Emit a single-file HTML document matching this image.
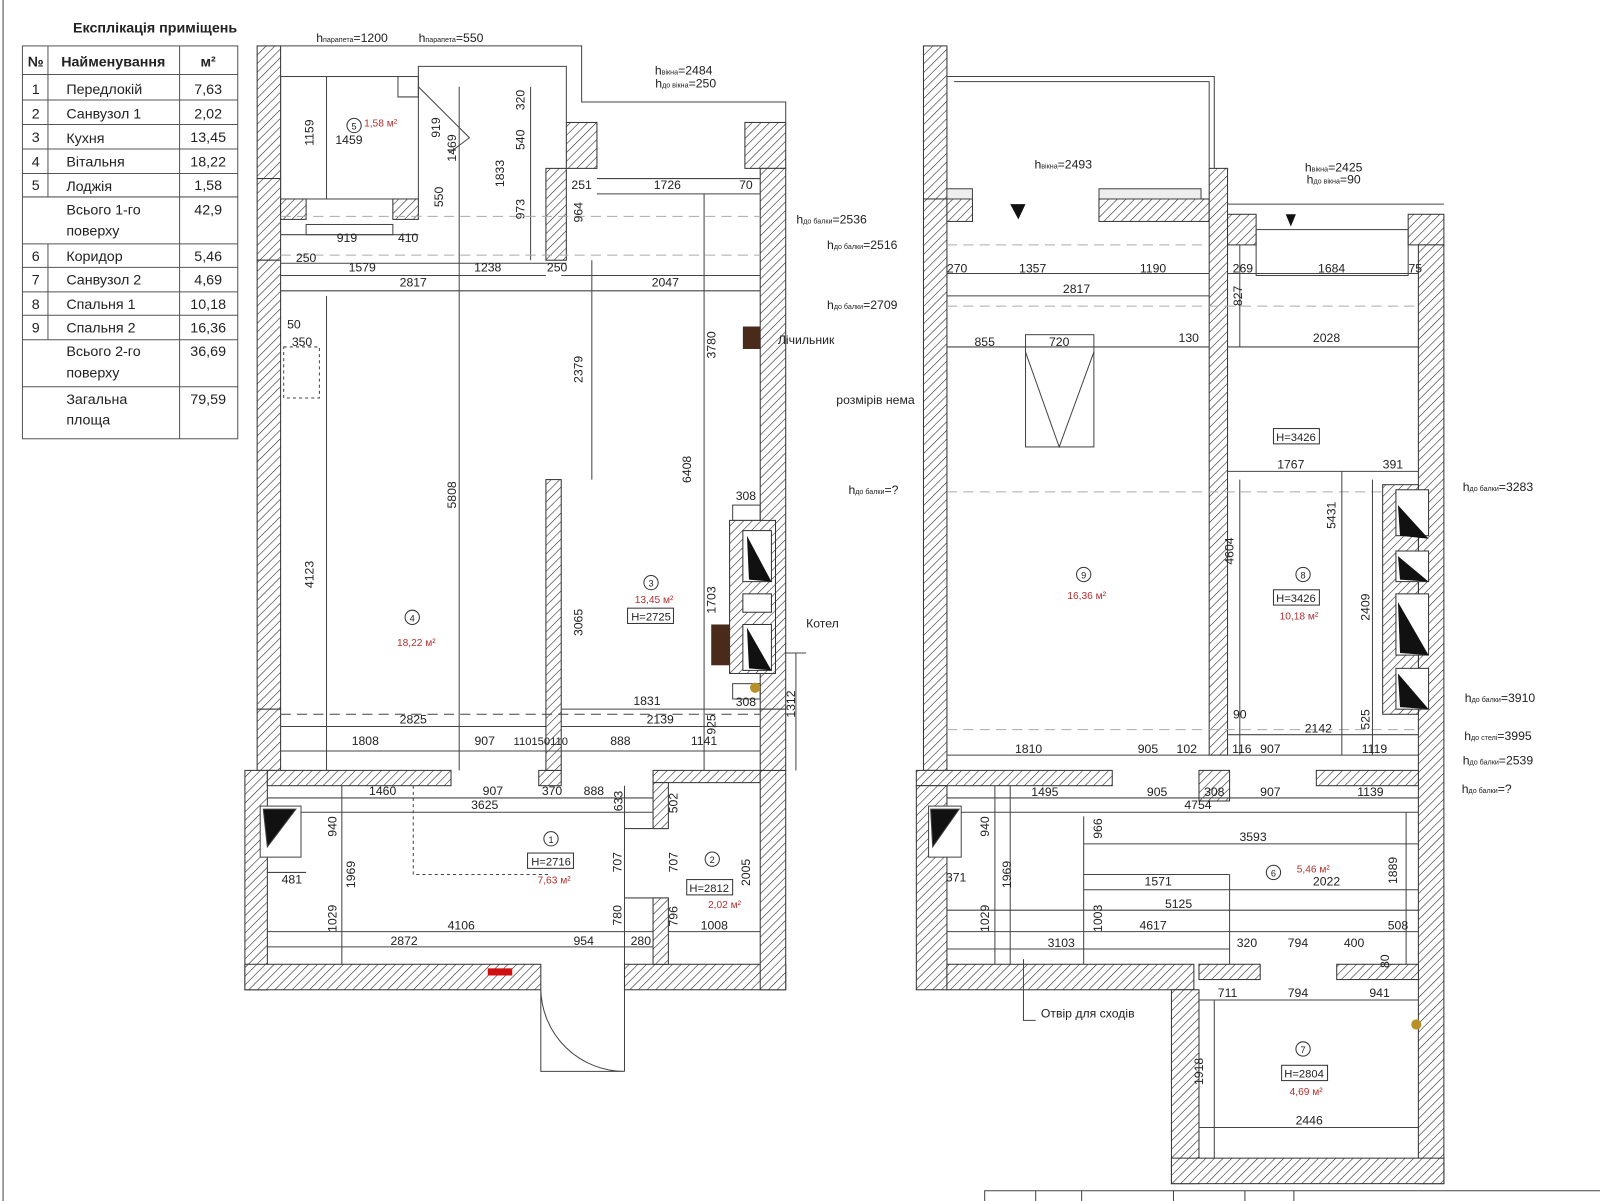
<!DOCTYPE html>
<html><head><meta charset="utf-8"><style>
html,body{margin:0;padding:0;background:#fff;}
svg{display:block}
text{font-family:"Liberation Sans",sans-serif;font-size:12px;fill:#222;text-anchor:middle}
.b{font-weight:bold}
.r{fill:#b03030;font-size:10px}
.s{font-size:11px;text-anchor:start}
.t text{font-size:14px}
.t .b{font-size:14px}
</style></head><body>
<svg width="1600" height="1201" viewBox="0 0 1568 1177" preserveAspectRatio="none" xmlns="http://www.w3.org/2000/svg">
<defs>
<pattern id="h" width="6" height="6" patternUnits="userSpaceOnUse" patternTransform="rotate(45)">
<rect width="6" height="6" fill="#fff"/><line x1="0" y1="0" x2="0" y2="6" stroke="#222" stroke-width="1.1"/>
</pattern>
</defs>
<g stroke="#333" stroke-width="1" fill="url(#h)">
<rect x="252" y="45" width="23" height="130"/>
<rect x="252" y="175" width="23" height="80"/>
<rect x="252" y="255" width="23" height="440"/>
<rect x="252" y="695" width="23" height="60"/>
<rect x="240" y="755" width="22" height="215"/>
<rect x="240" y="945" width="290" height="25"/>
<rect x="612" y="945" width="158" height="25"/>
<rect x="262" y="755" width="180" height="15"/>
<rect x="528" y="755" width="22" height="15"/>
<rect x="640" y="755" width="105" height="12"/>
<rect x="745" y="755" width="25" height="215"/>
<rect x="640" y="767" width="15" height="45"/>
<rect x="640" y="880" width="15" height="65"/>
<rect x="535" y="470" width="15" height="285"/>
<rect x="555" y="120" width="30" height="45"/>
<rect x="535" y="165" width="20" height="90"/>
<rect x="730" y="120" width="40" height="45"/>
<rect x="745" y="165" width="25" height="530"/>
<rect x="745" y="695" width="25" height="60"/>
<rect x="275" y="195" width="25" height="20"/>
<rect x="385" y="195" width="25" height="20"/>
<rect x="715" y="510" width="45" height="150" />
<rect x="905" y="45" width="23" height="150"/>
<rect x="905" y="195" width="23" height="560"/>
<rect x="928" y="195" width="25" height="22"/>
<rect x="1077" y="195" width="108" height="22"/>
<rect x="1185" y="165" width="18" height="575"/>
<rect x="1203" y="210" width="28" height="30"/>
<rect x="1380" y="210" width="35" height="30"/>
<rect x="1390" y="240" width="25" height="920"/>
<rect x="1355" y="475" width="35" height="225"/>
<rect x="898" y="755" width="192" height="15"/>
<rect x="1175" y="755" width="30" height="30"/>
<rect x="1290" y="755" width="100" height="15"/>
<rect x="898" y="770" width="30" height="200"/>
<rect x="928" y="945" width="242" height="25"/>
<rect x="1148" y="970" width="27" height="190"/>
<rect x="1148" y="1135" width="267" height="25"/>
<rect x="1310" y="945" width="80" height="15"/>
<rect x="1175" y="945" width="60" height="15"/>
</g>
<g stroke="#444" stroke-width="1" fill="none">
<line x1="3" y1="0" x2="3" y2="1177"/>
<polyline points="275,75 390,75 390,95 410,95 410,65 555,65 555,120"/>
<polyline points="275,45 570,45 570,100 770,100 770,120"/>
<rect x="275" y="75" width="135" height="120"/>
<polyline points="410,85 460,135 440,150"/>
<rect x="300" y="220" width="85" height="10"/>
<line x1="275" y1="230" x2="410" y2="230"/><line x1="275" y1="258" x2="555" y2="258"/>
<line x1="275" y1="270" x2="535" y2="270"/><line x1="550" y1="270" x2="745" y2="270"/>
<line x1="275" y1="285" x2="745" y2="285"/>
<line x1="585" y1="175" x2="745" y2="175"/><line x1="585" y1="190" x2="745" y2="190"/>
<line x1="450" y1="85" x2="450" y2="755"/><line x1="320" y1="75" x2="320" y2="195"/>
<line x1="520" y1="85" x2="520" y2="255"/><line x1="580" y1="255" x2="580" y2="470"/>
<line x1="690" y1="190" x2="690" y2="755"/><line x1="320" y1="290" x2="320" y2="755"/>
<line x1="275" y1="700" x2="745" y2="700" stroke-dasharray="10 6"/>
<line x1="275" y1="712" x2="535" y2="712"/><line x1="550" y1="695" x2="745" y2="695"/>
<line x1="550" y1="712" x2="745" y2="712"/>
<line x1="275" y1="736" x2="745" y2="736"/>
<line x1="262" y1="782" x2="640" y2="782"/><line x1="262" y1="796" x2="640" y2="796"/>
<line x1="262" y1="913" x2="640" y2="913"/><line x1="262" y1="928" x2="640" y2="928"/>
<line x1="655" y1="913" x2="745" y2="913"/>
<line x1="612" y1="812" x2="655" y2="812"/><line x1="612" y1="880" x2="655" y2="880"/>
<line x1="612" y1="770" x2="612" y2="945"/>
<line x1="335" y1="770" x2="335" y2="945"/>
<line x1="262" y1="855" x2="300" y2="855"/>
<rect x="255" y="790" width="40" height="50" fill="#fff"/>
<polygon points="258,793 290,793 262,830" fill="#111"/>
<line x1="275" y1="212" x2="745" y2="212" stroke-dasharray="10 6" stroke="#aaa"/>
<line x1="275" y1="250" x2="745" y2="250" stroke-dasharray="10 6" stroke="#aaa"/>
<path d="M405,770 L405,857 L540,857" stroke-dasharray="3 3"/>
<rect x="278" y="340" width="35" height="50" stroke-dasharray="3 3"/>
<path d="M530,970 L530,1050 L612,1050 M530,970 A82,82 0 0 0 612,1050"/>
<line x1="612" y1="970" x2="612" y2="1050"/>
<rect x="718" y="495" width="27" height="15"/><rect x="718" y="670" width="27" height="15"/>
<line x1="770" y1="640" x2="790" y2="640"/><line x1="780" y1="640" x2="780" y2="755"/>
<polyline points="928,75 1190,75 1190,165"/>
<polyline points="935,80 1185,80 1185,165"/>
<rect x="928" y="185" width="25" height="10" fill="#eee"/>
<rect x="1077" y="185" width="100" height="10" fill="#eee"/>
<polyline points="1203,200 1415,200"/>
<rect x="1231" y="225" width="149" height="45"/>
<line x1="928" y1="268" x2="1185" y2="268"/><line x1="928" y1="290" x2="1185" y2="290"/>
<line x1="1203" y1="268" x2="1390" y2="268"/>
<line x1="928" y1="340" x2="1185" y2="340"/><line x1="1203" y1="340" x2="1390" y2="340"/>
<line x1="1203" y1="462" x2="1390" y2="462"/>
<line x1="928" y1="240" x2="1185" y2="240" stroke-dasharray="10 6" stroke="#aaa"/>
<line x1="928" y1="300" x2="1390" y2="300" stroke-dasharray="10 6" stroke="#aaa"/>
<line x1="928" y1="482" x2="1355" y2="482" stroke-dasharray="10 6" stroke="#aaa"/>
<line x1="928" y1="715" x2="1390" y2="715" stroke-dasharray="10 6" stroke="#aaa"/>
<rect x="1005" y="328" width="67" height="110"/>
<polyline points="1005,345 1038,438 1072,345"/>
<line x1="928" y1="740" x2="1390" y2="740"/><line x1="1203" y1="720" x2="1390" y2="720"/>
<line x1="928" y1="782" x2="1390" y2="782"/><line x1="928" y1="796" x2="1390" y2="796"/>
<line x1="1062" y1="827" x2="1390" y2="827"/><line x1="1062" y1="857" x2="1205" y2="857"/>
<line x1="1062" y1="872" x2="1390" y2="872"/>
<line x1="928" y1="892" x2="1390" y2="892"/><line x1="928" y1="913" x2="1390" y2="913"/>
<line x1="928" y1="930" x2="1205" y2="930"/>
<line x1="1062" y1="800" x2="1062" y2="945"/><line x1="1205" y1="857" x2="1205" y2="945"/>
<line x1="975" y1="770" x2="975" y2="945"/><line x1="990" y1="770" x2="990" y2="945"/>
<line x1="1175" y1="980" x2="1390" y2="980"/><line x1="1175" y1="1105" x2="1390" y2="1105"/>
<line x1="1190" y1="980" x2="1190" y2="1135"/>
<line x1="1378" y1="796" x2="1378" y2="945"/>
<rect x="910" y="790" width="32" height="50" fill="#fff"/>
<polygon points="912,793 940,793 914,830" fill="#111"/>
<path d="M1003,940 L1003,1000 L1015,1000"/>
<line x1="1215" y1="240" x2="1215" y2="340"/><line x1="1215" y1="470" x2="1215" y2="740"/>
<line x1="1315" y1="462" x2="1315" y2="740"/><line x1="1345" y1="470" x2="1345" y2="740"/>
<polyline points="965,1177 965,1167 1568,1167"/>
<line x1="1015" y1="1167" x2="1015" y2="1177"/><line x1="1060" y1="1167" x2="1060" y2="1177"/>
<line x1="1150" y1="1167" x2="1150" y2="1177"/><line x1="1220" y1="1167" x2="1220" y2="1177"/>
<line x1="1268" y1="1167" x2="1268" y2="1177"/>
</g>
<g stroke="#333" fill="#fff">
<rect x="1368" y="480" width="32" height="45"/><rect x="1368" y="540" width="32" height="30"/>
<rect x="1368" y="582" width="32" height="60"/><rect x="1368" y="655" width="32" height="40"/>
<rect x="728" y="520" width="28" height="50"/><rect x="728" y="582" width="28" height="18"/><rect x="728" y="612" width="28" height="45"/>
</g>
<g fill="#111">
<polygon points="1370,495 1400,528 1372,525"/><polygon points="1370,545 1400,570 1372,568"/>
<polygon points="1370,590 1400,642 1372,640"/><polygon points="1370,660 1400,695 1372,693"/>
<polygon points="732,525 756,570 734,568"/><polygon points="732,615 756,657 734,655"/>
<polygon points="990,200 998,215 1005,200"/><polygon points="1260,210 1265,222 1270,210"/>
</g>
<rect x="728" y="320" width="17" height="22" fill="#4a2a1a"/>
<rect x="697" y="612" width="18" height="40" fill="#4a2a1a"/>
<rect x="478" y="949" width="24" height="7" fill="#d01010"/>
<circle cx="740" cy="674" r="5" fill="#b8902a"/>
<circle cx="1388" cy="1004" r="5" fill="#b8902a"/>
<g stroke="#555" fill="none">
<rect x="22" y="45" width="211" height="385"/>
<line x1="47" y1="45" x2="47" y2="193"/><line x1="47" y1="239" x2="47" y2="333"/>
<line x1="176" y1="45" x2="176" y2="430"/>
<line x1="22" y1="73" x2="233" y2="73"/><line x1="22" y1="98" x2="233" y2="98"/>
<line x1="22" y1="122" x2="233" y2="122"/><line x1="22" y1="146" x2="233" y2="146"/>
<line x1="22" y1="170" x2="233" y2="170"/><line x1="22" y1="193" x2="233" y2="193"/>
<line x1="22" y1="239" x2="233" y2="239"/><line x1="22" y1="262" x2="233" y2="262"/>
<line x1="22" y1="286" x2="233" y2="286"/><line x1="22" y1="309" x2="233" y2="309"/>
<line x1="22" y1="333" x2="233" y2="333"/><line x1="22" y1="379" x2="233" y2="379"/>
</g>
<g class="t">
<text x="152" y="32" class="b">Експлікація приміщень</text>
<text x="35" y="65" class="b">№</text><text x="111" y="65" class="b">Найменування</text><text x="204" y="65" class="b">м²</text>
<text x="35" y="92">1</text><text x="65" y="92" class="s">Передлокій</text><text x="204" y="92">7,63</text>
<text x="35" y="116">2</text><text x="65" y="116" class="s">Санвузол 1</text><text x="204" y="116">2,02</text>
<text x="35" y="139">3</text><text x="65" y="140" class="s">Кухня</text><text x="204" y="139">13,45</text>
<text x="35" y="163">4</text><text x="65" y="163" class="s">Вітальня</text><text x="204" y="163">18,22</text>
<text x="35" y="186">5</text><text x="65" y="187" class="s">Лоджія</text><text x="204" y="186">1,58</text>
<text x="65" y="210" class="s">Всього 1-го</text><text x="65" y="231" class="s">поверху</text><text x="204" y="210">42,9</text>
<text x="35" y="256">6</text><text x="65" y="256" class="s">Коридор</text><text x="204" y="256">5,46</text>
<text x="35" y="279">7</text><text x="65" y="279" class="s">Санвузол 2</text><text x="204" y="279">4,69</text>
<text x="35" y="303">8</text><text x="65" y="303" class="s">Спальня 1</text><text x="204" y="303">10,18</text>
<text x="35" y="326">9</text><text x="65" y="326" class="s">Спальня 2</text><text x="204" y="326">16,36</text>
<text x="65" y="349" class="s">Всього 2-го</text><text x="65" y="370" class="s">поверху</text><text x="204" y="349">36,69</text>
<text x="65" y="396" class="s">Загальна</text><text x="65" y="416" class="s">площа</text><text x="204" y="396">79,59</text>
</g>
<g>
<text x="345" y="41">h<tspan style="font-size:7px">парапета</tspan>=1200</text>
<text x="442" y="41">h<tspan style="font-size:7px">парапета</tspan>=550</text>
<text x="670" y="73">h<tspan style="font-size:7px">вікна</tspan>=2484</text>
<text x="672" y="86">h<tspan style="font-size:7px">до вікна</tspan>=250</text>
<text x="815" y="219">h<tspan style="font-size:7px">до балки</tspan>=2536</text>
<text x="845" y="244">h<tspan style="font-size:7px">до балки</tspan>=2516</text>
<text x="845" y="303">h<tspan style="font-size:7px">до балки</tspan>=2709</text>
<text x="342" y="141">1459</text><text x="373" y="124" class="r">1,58 м²</text>
<circle cx="347" cy="123" r="7" fill="none" stroke="#333"/><text x="347" y="127" style="font-size:9px">5</text>
<text x="340" y="237">919</text><text x="400" y="237">410</text><text x="300" y="257">250</text>
<text x="355" y="266">1579</text><text x="478" y="266">1238</text><text x="546" y="266">250</text>
<text x="405" y="281">2817</text><text x="652" y="281">2047</text>
<text x="570" y="185">251</text><text x="654" y="185">1726</text><text x="731" y="185">70</text>
<text x="288" y="322">50</text><text x="296" y="339">350</text>
<text x="790" y="337">Лічильник</text>
<text x="731" y="490">308</text><text x="806" y="615">Котел</text>
<text x="641" y="591" class="r">13,45 м²</text>
<circle cx="638" cy="571" r="7" fill="none" stroke="#333"/><text x="638" y="575" style="font-size:9px">3</text>
<rect x="615" y="596" width="45" height="15" fill="none" stroke="#333"/><text x="638" y="608" style="font-size:11px">H=2725</text>
<circle cx="404" cy="605" r="7" fill="none" stroke="#333"/><text x="404" y="609" style="font-size:9px">4</text>
<text x="408" y="633" class="r">18,22 м²</text>
<text x="634" y="691">1831</text><text x="731" y="692">308</text>
<text x="405" y="709">2825</text><text x="647" y="709">2139</text>
<text x="358" y="730">1808</text><text x="475" y="730">907</text><text x="530" y="730" style="font-size:11px">110150110</text>
<text x="608" y="730">888</text><text x="690" y="730">1141</text>
<text x="375" y="779">1460</text><text x="483" y="779">907</text><text x="475" y="793">3625</text>
<text x="541" y="779">370</text><text x="582" y="779">888</text>
<text x="286" y="866">481</text>
<circle cx="540" cy="822" r="7" fill="none" stroke="#333"/><text x="540" y="826" style="font-size:9px">1</text>
<rect x="517" y="836" width="45" height="15" fill="#fff" stroke="#333"/><text x="540" y="848" style="font-size:11px">H=2716</text>
<text x="543" y="866" class="r">7,63 м²</text>
<circle cx="698" cy="842" r="7" fill="none" stroke="#333"/><text x="698" y="846" style="font-size:9px">2</text>
<rect x="673" y="862" width="45" height="15" fill="#fff" stroke="#333"/><text x="695" y="874" style="font-size:11px">H=2812</text>
<text x="710" y="890" class="r">2,02 м²</text>
<text x="452" y="911">4106</text><text x="396" y="926">2872</text><text x="572" y="926">954</text>
<text x="628" y="926">280</text><text x="700" y="911">1008</text>
</g>
<g>
<text transform="translate(307,130) rotate(-90)">1159</text>
<text transform="translate(431,125) rotate(-90)">919</text>
<text transform="translate(447,145) rotate(-90)">1469</text>
<text transform="translate(494,170) rotate(-90)">1833</text>
<text transform="translate(514,98) rotate(-90)">320</text>
<text transform="translate(514,137) rotate(-90)">540</text>
<text transform="translate(514,205) rotate(-90)">973</text>
<text transform="translate(434,193) rotate(-90)">550</text>
<text transform="translate(571,208) rotate(-90)">964</text>
<text transform="translate(571,362) rotate(-90)">2379</text>
<text transform="translate(701,338) rotate(-90)">3780</text>
<text transform="translate(447,485) rotate(-90)">5808</text>
<text transform="translate(677,460) rotate(-90)">6408</text>
<text transform="translate(307,563) rotate(-90)">4123</text>
<text transform="translate(571,610) rotate(-90)">3065</text>
<text transform="translate(701,588) rotate(-90)">1703</text>
<text transform="translate(779,690) rotate(-90)">1312</text>
<text transform="translate(701,710) rotate(-90)">925</text>
<text transform="translate(610,785) rotate(-90)">633</text>
<text transform="translate(664,787) rotate(-90)">502</text>
<text transform="translate(330,810) rotate(-90)">940</text>
<text transform="translate(348,857) rotate(-90)">1969</text>
<text transform="translate(330,900) rotate(-90)">1029</text>
<text transform="translate(609,845) rotate(-90)">707</text>
<text transform="translate(664,845) rotate(-90)">707</text>
<text transform="translate(735,855) rotate(-90)">2005</text>
<text transform="translate(609,897) rotate(-90)">780</text>
<text transform="translate(664,898) rotate(-90)">796</text>
</g>
<g>
<text x="1042" y="165">h<tspan style="font-size:7px">вікна</tspan>=2493</text>
<text x="1307" y="168">h<tspan style="font-size:7px">вікна</tspan>=2425</text>
<text x="1307" y="180">h<tspan style="font-size:7px">до вікна</tspan>=90</text>
<text x="938" y="267">270</text><text x="1012" y="267">1357</text><text x="1130" y="267">1190</text>
<text x="1218" y="267">269</text><text x="1305" y="267">1684</text><text x="1387" y="267">75</text>
<text x="1055" y="287">2817</text>
<text x="965" y="339">855</text><text x="1038" y="339">720</text><text x="1165" y="335">130</text><text x="1300" y="335">2028</text>
<text x="858" y="396">розмірів нема</text>
<rect x="1248" y="420" width="45" height="15" fill="none" stroke="#333"/><text x="1270" y="432" style="font-size:11px">H=3426</text>
<text x="1265" y="459">1767</text><text x="1365" y="459">391</text>
<text x="856" y="484">h<tspan style="font-size:7px">до балки</tspan>=?</text>
<text x="1468" y="481">h<tspan style="font-size:7px">до балки</tspan>=3283</text>
<circle cx="1062" cy="563" r="7" fill="none" stroke="#333"/><text x="1062" y="567" style="font-size:9px">9</text>
<text x="1065" y="587" class="r">16,36 м²</text>
<circle cx="1277" cy="563" r="7" fill="none" stroke="#333"/><text x="1277" y="567" style="font-size:9px">8</text>
<rect x="1248" y="578" width="45" height="15" fill="none" stroke="#333"/><text x="1270" y="590" style="font-size:11px">H=3426</text>
<text x="1273" y="607" class="r">10,18 м²</text>
<text x="1470" y="688">h<tspan style="font-size:7px">до балки</tspan>=3910</text>
<text x="1215" y="704">90</text><text x="1292" y="718">2142</text>
<text x="1468" y="725">h<tspan style="font-size:7px">до стелі</tspan>=3995</text>
<text x="1008" y="738">1810</text><text x="1125" y="738">905</text><text x="1163" y="738">102</text>
<text x="1217" y="738">116</text><text x="1245" y="738">907</text><text x="1347" y="738">1119</text>
<text x="1468" y="749">h<tspan style="font-size:7px">до балки</tspan>=2539</text>
<text x="1457" y="777">h<tspan style="font-size:7px">до балки</tspan>=?</text>
<text x="1024" y="780">1495</text><text x="1134" y="780">905</text><text x="1190" y="780">308</text>
<text x="1245" y="780">907</text><text x="1343" y="780">1139</text><text x="1174" y="793">4754</text>
<text x="1228" y="824">3593</text>
<circle cx="1248" cy="855" r="7" fill="none" stroke="#333"/><text x="1248" y="859" style="font-size:9px">6</text>
<text x="1287" y="855" class="r">5,46 м²</text>
<text x="937" y="864">371</text><text x="1135" y="868">1571</text><text x="1300" y="868">2022</text>
<text x="1155" y="890">5125</text><text x="1130" y="911">4617</text><text x="1370" y="911">508</text>
<text x="1040" y="928">3103</text><text x="1222" y="928">320</text><text x="1272" y="928">794</text><text x="1327" y="928">400</text>
<text x="1203" y="977">711</text><text x="1272" y="977">794</text><text x="1352" y="977">941</text>
<text x="1066" y="997">Отвір для сходів</text>
<circle cx="1277" cy="1028" r="7" fill="none" stroke="#333"/><text x="1277" y="1032" style="font-size:9px">7</text>
<rect x="1256" y="1044" width="45" height="15" fill="#fff" stroke="#333"/><text x="1278" y="1056" style="font-size:11px">H=2804</text>
<text x="1280" y="1073" class="r">4,69 м²</text>
<text x="1283" y="1102">2446</text>
</g>
<g>
<text transform="translate(1217,290) rotate(-90)">827</text>
<text transform="translate(1209,540) rotate(-90)">4604</text>
<text transform="translate(1309,505) rotate(-90)">5431</text>
<text transform="translate(1342,595) rotate(-90)">2409</text>
<text transform="translate(1342,705) rotate(-90)">525</text>
<text transform="translate(1080,812) rotate(-90)">966</text>
<text transform="translate(969,810) rotate(-90)">940</text>
<text transform="translate(1369,853) rotate(-90)">1889</text>
<text transform="translate(991,857) rotate(-90)">1969</text>
<text transform="translate(969,900) rotate(-90)">1029</text>
<text transform="translate(1080,900) rotate(-90)">1003</text>
<text transform="translate(1361,942) rotate(-90)">80</text>
<text transform="translate(1179,1050) rotate(-90)">1918</text>
</g>
</svg>
</body></html>
